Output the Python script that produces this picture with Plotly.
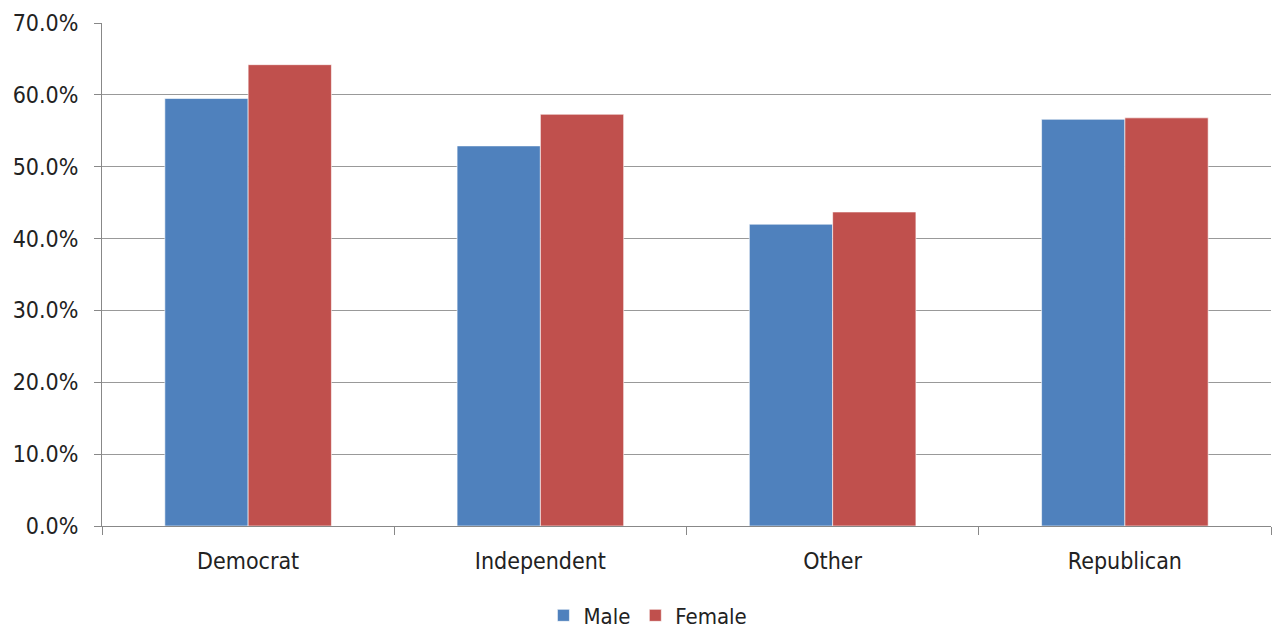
import plotly.graph_objects as go

categories = ["Democrat", "Independent", "Other", "Republican"]
male = [0.595, 0.529, 0.420, 0.566]
female = [0.642, 0.573, 0.437, 0.568]
series_names = ["Male", "Female"]
colors = ["#4F81BD", "#C0504D"]

FONT = "Liberation Sans Narrow, DejaVu Sans Condensed, Arial Narrow, sans-serif"

fig = go.Figure()
for name, vals, col in zip(series_names, [male, female], colors):
    fig.add_trace(go.Bar(
        x=categories, y=vals, name=name,
        marker=dict(color=col, line=dict(color="rgba(255,255,255,0.6)", width=1)),
    ))

fig.update_layout(
    width=1273, height=628,
    margin=dict(l=102, r=2, t=23, b=102, autoexpand=False),
    paper_bgcolor="white", plot_bgcolor="white",
    barmode="group", bargap=0.43, bargroupgap=0,
    font=dict(family=FONT, size=22, color="#222222"),
    legend=dict(orientation="h", x=0.467, xanchor="center", y=-0.178, yanchor="middle",
                font=dict(size=22), itemwidth=30, traceorder="normal"),
    showlegend=True,
)
fig.update_xaxes(
    automargin=False,
    showline=True, linecolor="#888888", linewidth=1,
    ticks="outside", tickson="boundaries", ticklen=8, tickcolor="#888888",
    showgrid=False, tickfont=dict(size=23), ticklabelstandoff=14,
)
fig.update_yaxes(
    automargin=False,
    range=[0, 0.7], dtick=0.1, tickformat=".1%",
    showgrid=True, gridcolor="#999999", gridwidth=1,
    showline=True, linecolor="#888888", linewidth=1,
    ticks="outside", ticklen=7, tickcolor="#888888",
    tickfont=dict(size=23), zeroline=False, ticklabelstandoff=11,
)

fig.write_html(
    "out.html",
    config={"displayModeBar": False},
    post_script="document.body.style.margin='0';document.body.style.overflow='hidden';",
)
